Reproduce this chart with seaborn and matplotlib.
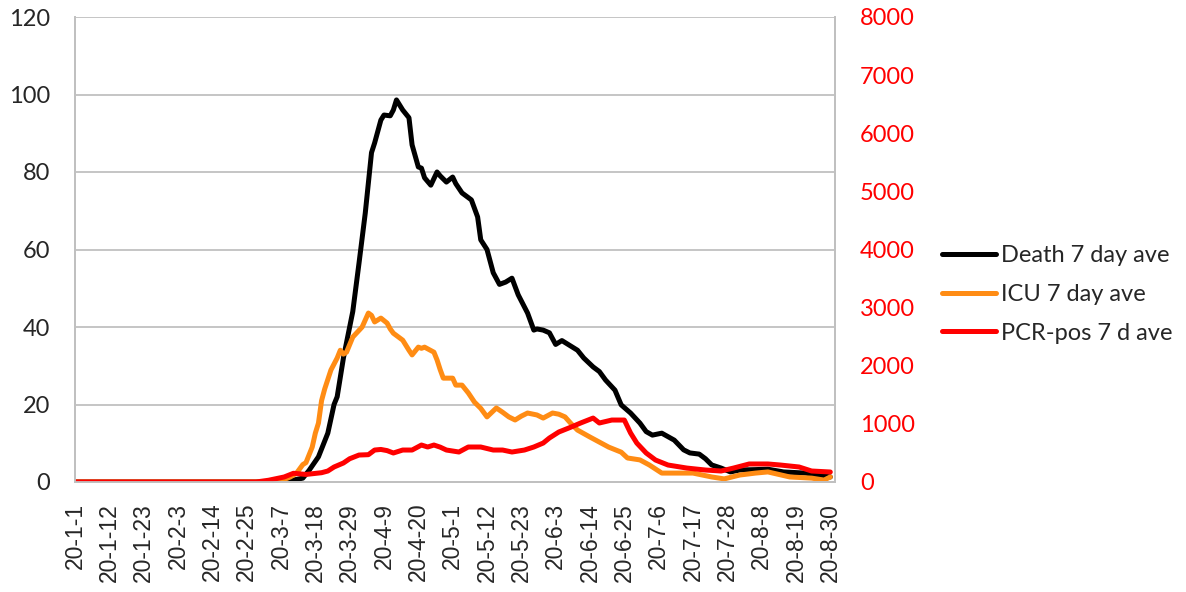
import pandas as pd
import matplotlib
matplotlib.use("Agg")
import matplotlib.pyplot as plt
import seaborn as sns

# days since 2020-01-01 and 7 day averages
death_days = [0, 60, 66, 70, 73, 75, 78, 81, 83, 84, 86, 89, 91, 93, 95, 96, 98, 99, 101, 102, 103,
              105, 107, 108, 110, 111, 112, 114, 116, 117, 119, 121, 122, 124, 127, 129, 130, 132,
              134, 136, 138, 140, 142, 145, 147, 148, 150, 152, 154, 156, 158, 161, 163, 166, 168,
              170, 173, 175, 178, 181, 183, 185, 188, 192, 195, 197, 200, 202, 204, 207, 210, 213,
              218, 222, 227, 234, 242]
death_vals = [0, 0, 0, 0.5, 1, 3, 6.5, 12.6, 20, 22, 32, 44, 56.5, 69.4, 85, 87.5, 93.4, 94.7, 94.5,
              96, 98.6, 96, 94, 87, 81.3, 81, 78.5, 76.6, 80, 79, 77.4, 78.7, 77, 74.6, 72.8, 68.4,
              62.5, 60, 54, 51, 51.6, 52.6, 48.3, 43.6, 39.2, 39.5, 39.2, 38.5, 35.5, 36.5, 35.5,
              34, 32, 29.7, 28.5, 26.3, 23.7, 19.9, 17.8, 15.2, 13, 12.1, 12.6, 10.8, 8.3, 7.5, 7.2,
              6, 4.4, 3.6, 2.6, 3.1, 3.2, 3.3, 2.6, 2.3, 1.3]

icu_days = [0, 62, 66, 69, 71, 73, 74, 76, 77, 78, 79, 80, 82, 84, 85, 86, 87, 89, 92, 94, 95, 96,
            98, 100, 101, 102, 105, 107, 108, 110, 111, 112, 115, 116, 117, 118, 121, 122, 124,
            126, 128, 130, 132, 135, 137, 139, 141, 143, 145, 148, 150, 153, 155, 157, 159, 161,
            163, 165, 168, 171, 175, 177, 181, 184, 188, 192, 198, 204, 208, 213, 218, 222, 229,
            236, 240, 242]
icu_vals = [0, 0, 0.3, 1.3, 2.3, 4.5, 5, 9, 12.6, 15.2, 21, 24, 28.9, 32, 34, 33, 33.5, 37.4, 40,
            43.6, 43, 41.3, 42.3, 41, 39.5, 38.4, 36.6, 34, 32.8, 34.8, 34.5, 34.8, 33.5, 31.5, 29,
            26.8, 26.8, 25, 25, 23, 20.6, 19, 16.8, 19.1, 18, 16.8, 16, 17, 17.8, 17.3, 16.5, 17.8,
            17.5, 16.8, 15, 13.4, 12.5, 11.6, 10.3, 9, 7.7, 6.2, 5.7, 4.4, 2.3, 2.3, 2.3, 1.3, 0.8,
            1.8, 2.3, 2.6, 1.3, 1, 0.5, 1.3]

pcr_days = [0, 58, 62, 67, 70, 74, 79, 81, 83, 86, 88, 91, 94, 96, 98, 100, 102, 105, 108, 111,
            113, 115, 117, 119, 123, 126, 130, 134, 137, 140, 144, 147, 150, 152, 155, 159, 162,
            166, 168, 172, 176, 178, 180, 183, 186, 190, 196, 202, 207, 211, 216, 222, 226, 232,
            236, 242]
pcr_vals = [0, 0, 30, 86, 150, 130, 160, 189, 258, 327, 400, 464, 470, 550, 560, 540, 499, 550, 550,
            636, 602, 636, 600, 550, 516, 602, 602, 550, 550, 516, 550, 602, 670, 757, 860, 946,
            1015, 1100, 1015, 1066, 1066, 843, 670, 499, 378, 292, 240, 206, 189, 240, 310, 310,
            292, 258, 189, 172]

tick_days = list(range(0, 243, 11))
tick_labels = [f"20-{d.month}-{d.day}" for d in pd.Timestamp("2020-01-01") + pd.to_timedelta(tick_days, unit="D")]

death = pd.DataFrame({"day": death_days, "val": death_vals})
icu = pd.DataFrame({"day": icu_days, "val": icu_vals})
pcr = pd.DataFrame({"day": pcr_days, "val": pcr_vals})

sns.set_style("white")
plt.rcParams["font.family"] = ["Lato", "DejaVu Sans"]

fig = plt.figure(figsize=(11.86, 5.92), dpi=100)
ax = fig.add_axes([75 / 1186, 110 / 592, 760 / 1186, 465 / 592])
ax2 = ax.twinx()

lw = 3.6
sns.lineplot(data=death, x="day", y="val", ax=ax, color="black", lw=lw, legend=False)
sns.lineplot(data=icu, x="day", y="val", ax=ax, color="#ff8c14", lw=lw, legend=False)
sns.lineplot(data=pcr, x="day", y="val", ax=ax2, color="#ff0000", lw=lw, legend=False)

ax.set_xlim(0, 243.5)
ax.set_ylim(0, 120)
ax.set_yticks(range(0, 121, 20))
ax2.set_ylim(0, 8000)
ax2.set_yticks(range(0, 8001, 1000))
ax.set_xticks(tick_days)
ax.set_xticklabels(tick_labels, rotation=90)
plt.setp(ax.get_xticklabels(), fontfamily="Liberation Sans", fontsize=16.5)
ax.set_xlabel("")
ax.set_ylabel("")
ax2.set_ylabel("")

ax.grid(axis="y", color="#c0c0c0", lw=1.3)
ax.set_axisbelow(True)
ax.tick_params(axis="y", length=0, pad=18, labelsize=17)
ax.tick_params(axis="x", length=0, pad=15)
ax2.tick_params(axis="y", length=0, pad=18, labelsize=17, labelcolor="#ff0000")
for a in (ax, ax2):
    for s in a.spines.values():
        s.set_color("#c0c0c0")
        s.set_linewidth(1.3)
    a.spines["top"].set_visible(False)

handles = ax.get_lines()[:2] + ax2.get_lines()[:1]
labels = ["Death 7 day ave", "ICU 7 day ave", "PCR-pos 7 d ave"]
fig.legend(handles, labels, loc="center left", bbox_to_anchor=(942 / 1186, 0.5025), frameon=False,
           fontsize=17, handlelength=2.3, handletextpad=0.2, labelspacing=0.75, borderpad=0, borderaxespad=0)

fig.savefig("out.png", dpi=100)
